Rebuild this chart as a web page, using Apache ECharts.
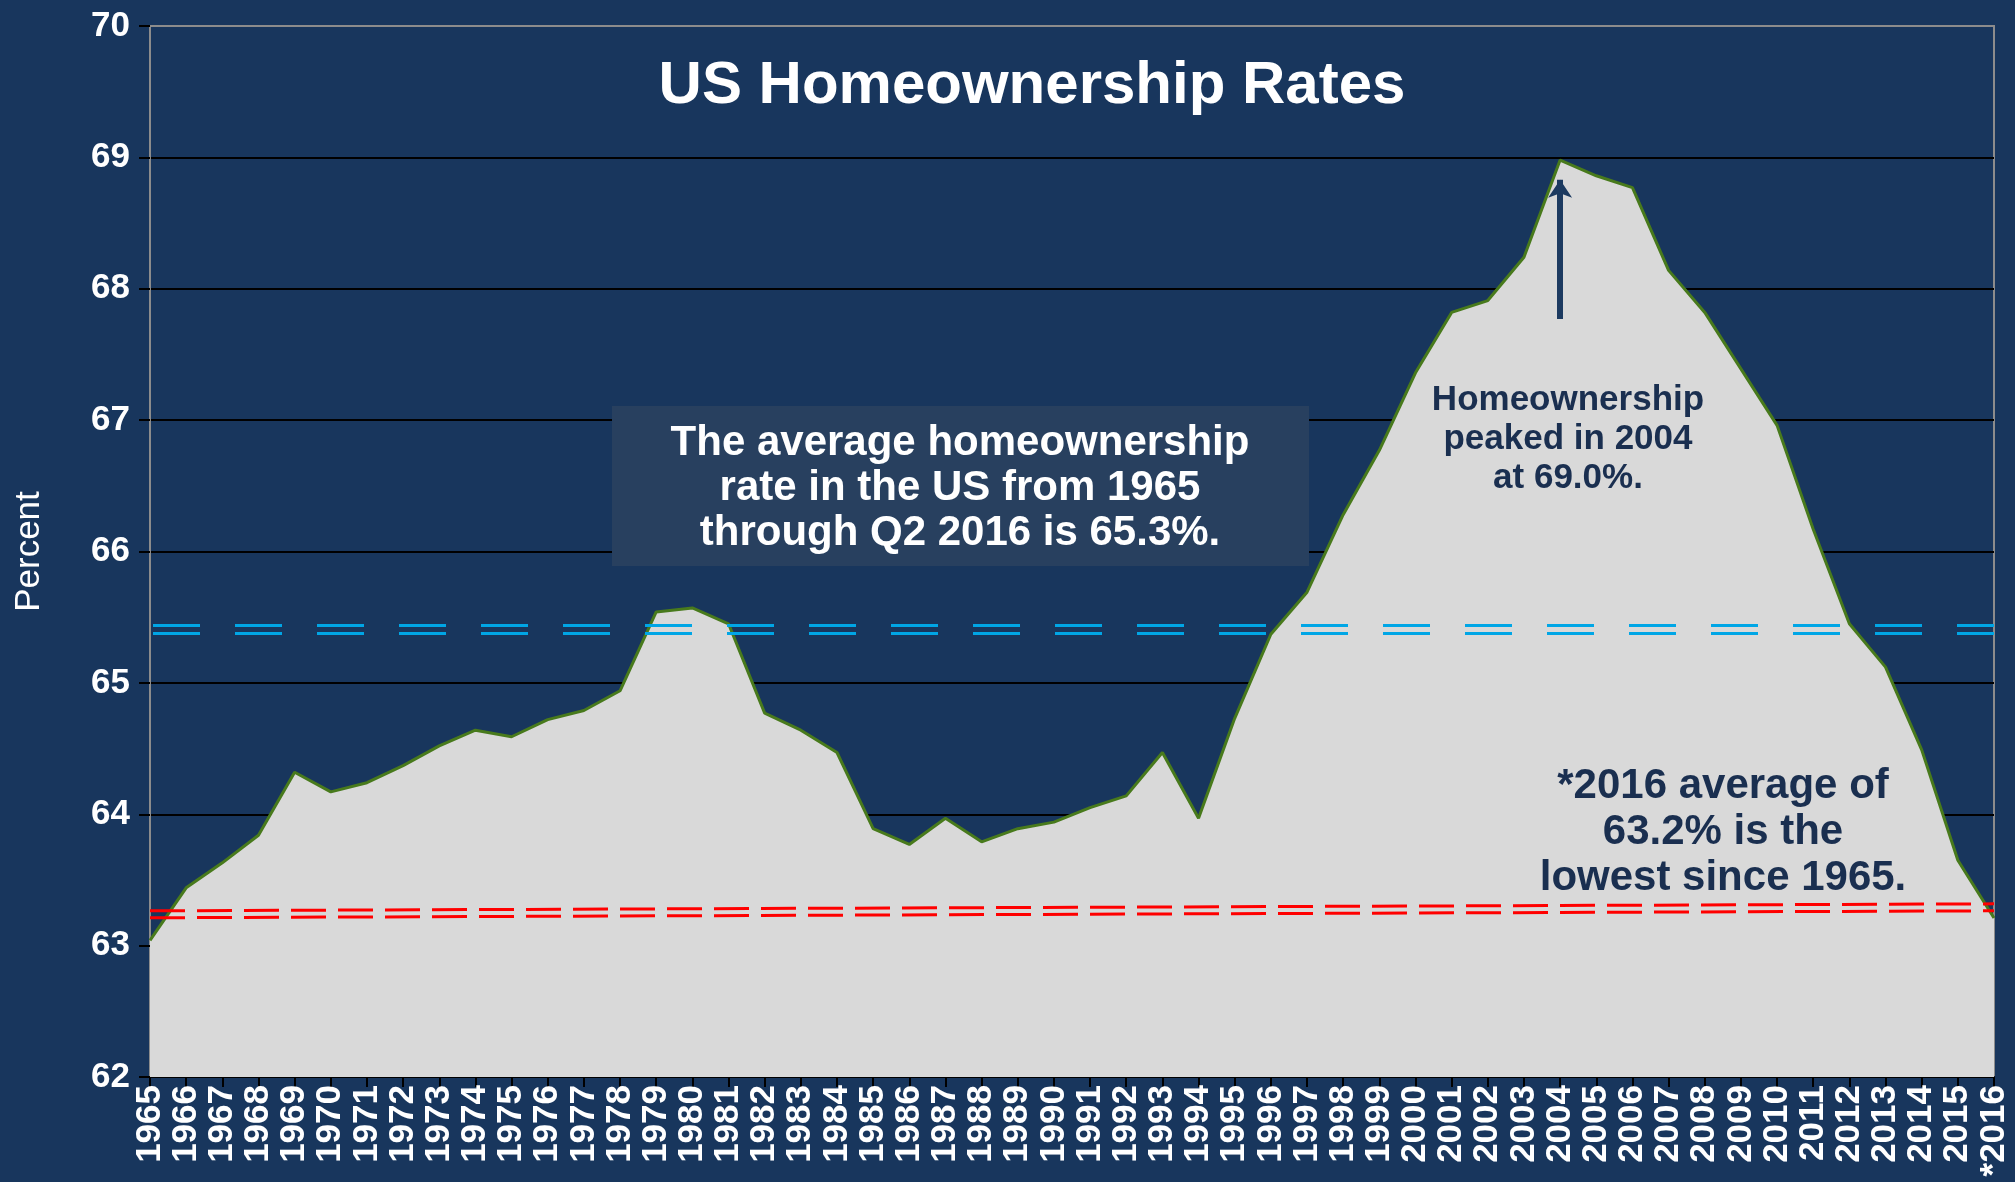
<!DOCTYPE html>
<html>
<head>
<meta charset="utf-8">
<script src="https://cdn.jsdelivr.net/npm/echarts@6/dist/echarts.min.js"></script>
<style>
  html, body { margin: 0; padding: 0; background: #18365d; }
  #chart { width: 2015px; height: 1182px; }
</style>
</head>
<body>
<div id="chart"></div>
<script>
// years on the x axis (last one is the partial 2016 average)
var years = ["1965","1966","1967","1968","1969","1970","1971","1972","1973","1974",
  "1975","1976","1977","1978","1979","1980","1981","1982","1983","1984",
  "1985","1986","1987","1988","1989","1990","1991","1992","1993","1994",
  "1995","1996","1997","1998","1999","2000","2001","2002","2003","2004",
  "2005","2006","2007","2008","2009","2010","2011","2012","2013","2014",
  "2015","*2016"];

// homeownership rate, percent
var rates = [63.04, 63.44, 63.63, 63.84, 64.32, 64.17, 64.24, 64.37, 64.52, 64.64,
  64.59, 64.72, 64.79, 64.94, 65.54, 65.57, 65.45, 64.77, 64.64, 64.47,
  63.89, 63.77, 63.97, 63.79, 63.89, 63.94, 64.05, 64.14, 64.47, 63.97,
  64.73, 65.37, 65.69, 66.28, 66.77, 67.36, 67.82, 67.91, 68.24, 68.98,
  68.86, 68.77, 68.14, 67.82, 67.39, 66.96, 66.17, 65.45, 65.12, 64.49,
  63.65, 63.21];

// long run average (double blue dashed line)
var avgLong = [65.435, 65.38];
// 2016 average (double red dashed line, slightly rising), [start, end]
var avg2016Upper = [63.265, 63.318];
var avg2016Lower = [63.212, 63.265];
// peak arrow: from, to
var peakIndex = 39;
var peakArrow = [67.77, 68.83];

var yTicks = { min: 62, max: 70, step: 1 };

var font = "'Liberation Sans', Arial, sans-serif";
var navy = "#1a2f50";

var myChart = echarts.init(document.getElementById("chart"));

var option = {
  backgroundColor: "#18365d",
  animation: false,
  textStyle: { fontFamily: font },
  //布局
  grid: {
    left: 150,
    right: 21,
    top: 26,
    bottom: 105,
    show: true,
    borderColor: "#8c8c8c",
    borderWidth: 2,
    backgroundColor: "transparent"
  },
  xAxis: {
    type: "category",
    data: years,
    boundaryGap: false,
    axisLine: { lineStyle: { color: "#000", width: 2 } },
    axisTick: { show: true, interval: 0, length: 10, lineStyle: { color: "#000", width: 2 } },
    axisLabel: {
      interval: 0,
      rotate: 90,
      margin: 8,
      color: "#fff",
      fontSize: 35,
      fontWeight: "bold",
      fontFamily: font
    },
    splitLine: { show: false }
  },
  yAxis: {
    type: "value",
    min: yTicks.min,
    max: yTicks.max,
    interval: yTicks.step,
    name: "Percent",
    nameLocation: "middle",
    nameGap: 103,
    nameTextStyle: { color: "#fff", fontSize: 35, fontFamily: font },
    axisLine: { show: true, lineStyle: { color: "#8c8c8c", width: 2 } },
    axisTick: { show: true, length: 11, lineStyle: { color: "#000", width: 2 } },
    axisLabel: {
      margin: 20,
      color: "#fff",
      fontSize: 35,
      fontWeight: "bold",
      fontFamily: font
    },
    splitLine: {
      show: true,
      showMaxLine: false,
      lineStyle: { color: "#000", width: 2 }
    }
  },
  series: [
    {
      name: "Homeownership",
      type: "line",
      data: rates,
      symbol: "none",
      lineStyle: { color: "#487a1c", width: 3 },
      areaStyle: { color: "#d9d9d9", opacity: 1, origin: "start" },
      //标线
      markLine: {
        silent: true,
        symbol: ["none", "none"],
        label: { show: false },
        data: [
          { yAxis: avgLong[0], lineStyle: { color: "#00a6e6", width: 3, type: [47, 35], dashOffset: -3 } },
          { yAxis: avgLong[1], lineStyle: { color: "#00a6e6", width: 3, type: [47, 35], dashOffset: -3 } },
          [
            { coord: [0, avg2016Upper[0]], lineStyle: { color: "#ff0000", width: 3, type: [35, 12] } },
            { coord: [years.length - 1, avg2016Upper[1]] }
          ],
          [
            { coord: [0, avg2016Lower[0]], lineStyle: { color: "#ff0000", width: 3, type: [35, 12] } },
            { coord: [years.length - 1, avg2016Lower[1]] }
          ],
          [
            { coord: [peakIndex, peakArrow[0]], symbol: "none",
              lineStyle: { color: "#1c3a60", width: 6, type: "solid" } },
            { coord: [peakIndex, peakArrow[1]], symbol: "arrow", symbolSize: [18, 18] }
          ]
        ]
      }
    }
  ],
  //文字
  graphic: [
    {
      type: "text",
      z: 100,
      style: {
        text: "US Homeownership Rates",
        x: 1032, y: 86,
        align: "center", verticalAlign: "middle",
        fill: "#fff",
        font: "bold 60px " + font
      }
    },
    {
      type: "rect",
      z: 100,
      shape: { x: 612, y: 406, width: 697, height: 160 },
      style: { fill: "#28405f" }
    },
    {
      type: "text",
      z: 101,
      style: {
        text: "The average homeownership\nrate in the US from 1965\nthrough Q2 2016 is 65.3%.",
        x: 960, y: 488,
        align: "center", verticalAlign: "middle",
        lineHeight: 45,
        fill: "#fff",
        font: "bold 42px " + font
      }
    },
    {
      type: "text",
      z: 101,
      style: {
        text: "Homeownership\npeaked in 2004\nat 69.0%.",
        x: 1568, y: 439,
        align: "center", verticalAlign: "middle",
        lineHeight: 39,
        fill: navy,
        font: "bold 35px " + font
      }
    },
    {
      type: "text",
      z: 101,
      style: {
        text: "*2016 average of\n63.2% is the\nlowest since 1965.",
        x: 1723, y: 832,
        align: "center", verticalAlign: "middle",
        lineHeight: 46,
        fill: navy,
        font: "bold 42px " + font
      }
    }
  ]
};

myChart.setOption(option);
</script>
</body>
</html>
